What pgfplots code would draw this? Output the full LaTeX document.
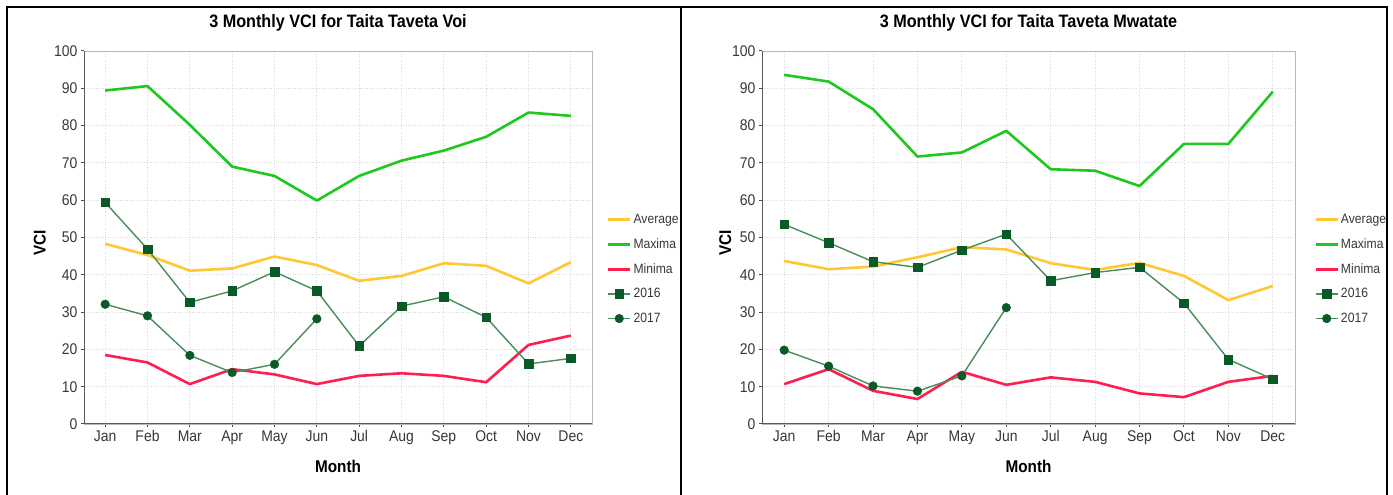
\documentclass[border=0pt]{standalone}
\usepackage{fontspec}
\setmainfont{Liberation Sans}[FakeStretch=0.9]
\usepackage{pgfplots}
\usepackage{pgfplotstable}
\pgfplotsset{compat=1.18}

\definecolor{avgc}{RGB}{255,200,50}
\definecolor{maxc}{RGB}{30,200,30}
\definecolor{minc}{RGB}{255,30,80}
\definecolor{yrline}{RGB}{72,142,92}
\definecolor{yrmark}{RGB}{10,90,40}
\definecolor{labc}{RGB}{55,55,55}

% Voi: long-term average, maxima and minima
\pgfplotstableread{
m avg max min
0 48.3 89.4 18.5
1 45.3 90.6 16.5
2 41.1 80.2 10.7
3 41.7 69.0 14.7
4 44.9 66.5 13.3
5 42.6 59.9 10.7
6 38.4 66.5 12.9
7 39.7 70.6 13.6
8 43.1 73.3 12.9
9 42.4 77.0 11.2
10 37.7 83.5 21.2
11 43.4 82.6 23.7
}\voiclim
\pgfplotstableread{
m v
0 59.4
1 46.9
2 32.6
3 35.7
4 40.8
5 35.7
6 20.9
7 31.6
8 34.1
9 28.6
10 16.1
11 17.6
}\voiA
\pgfplotstableread{
m v
0 32.1
1 29.0
2 18.4
3 13.8
4 16.0
5 28.2
}\voiB

% Mwatate: long-term average, maxima and minima
\pgfplotstableread{
m avg max min
0 43.7 93.6 10.7
1 41.5 91.8 14.7
2 42.2 84.4 8.9
3 44.7 71.7 6.7
4 47.4 72.8 14.0
5 46.8 78.6 10.5
6 43.1 68.3 12.5
7 41.3 67.9 11.3
8 43.2 63.8 8.2
9 39.7 75.1 7.2
10 33.2 75.1 11.3
11 37.0 89.1 12.9
}\mwaclim
\pgfplotstableread{
m v
0 53.5
1 48.6
2 43.5
3 42.0
4 46.6
5 50.9
6 38.4
7 40.6
8 42.0
9 32.4
10 17.3
11 12.0
}\mwaA
\pgfplotstableread{
m v
0 19.8
1 15.5
2 10.2
3 8.8
4 12.9
5 31.2
}\mwaB

\pgfplotsset{
  vcipanel/.style={
    scale only axis,
    height=373pt,
    xmin=-0.5, xmax=11.5, ymin=0, ymax=100,
    xtick={0,...,11},
    xticklabels={Jan,Feb,Mar,Apr,May,Jun,Jul,Aug,Sep,Oct,Nov,Dec},
    ytick={0,10,...,100},
    /pgf/number format/assume math mode=true,
    xtick pos=bottom, ytick pos=left,
    tick align=outside,
    major tick length=3pt,
    tick style={black!70, line width=1pt},
    ticklabel style={font=\fontsize{15.5}{18}\selectfont, text=labc},
    grid=major,
    grid style={dotted, black!14, line width=0.9pt},
    axis line style={black!28, line width=0.8pt},
    xlabel={Month}, ylabel={VCI},
    label style={font=\bfseries\fontsize{17}{20}\selectfont},
    xlabel style={at={(axis description cs:0.5,-0.115)}, anchor=center},
    title style={font=\bfseries\fontsize{18}{21}\selectfont,
      at={(axis description cs:0.5,1)}, anchor=base, yshift=17pt},
    legend style={draw=none, fill=none, anchor=west,
      font=\fontsize{13.5}{16}\selectfont, text=labc,
      row sep=9.6pt, inner sep=0pt, cells={anchor=west}},
    legend image code/.code={%
      \draw[mark repeat=2, mark phase=2, #1]
        plot coordinates {(0pt,0pt) (11pt,0pt) (22pt,0pt)};},
  },
  avgline/.style={avgc, line width=2.6pt, line join=round},
  maxline/.style={maxc, line width=2.6pt, line join=round},
  minline/.style={minc, line width=2.6pt, line join=round},
  yrA/.style={yrline, line width=1.4pt, mark=square*, mark size=4.3pt,
    mark options={solid, fill=yrmark, draw=yrmark, line width=0.5pt}},
  yrB/.style={yrline, line width=1.4pt, mark=*, mark size=4.3pt,
    mark options={solid, fill=yrmark, draw=yrmark, line width=0.5pt}},
}

\begin{document}
\begin{tikzpicture}
\path[use as bounding box] (0pt,0pt) rectangle (1393pt,495pt);
\fill[white] (0pt,0pt) rectangle (1393pt,495pt);

% Voi panel
\begin{axis}[vcipanel,
  at={(84pt,71pt)}, anchor=south west, width=508pt,
  title={3 Monthly VCI for Taita Taveta Voi},
  ylabel style={at={(axis description cs:-0.087,0.485)}, anchor=center},
  legend style={at={(axis description cs:1.029,0.415)}},
]
\addplot[avgline] table[x=m, y=avg] {\voiclim};
\addlegendentry{Average}
\addplot[maxline] table[x=m, y=max] {\voiclim};
\addlegendentry{Maxima}
\addplot[minline] table[x=m, y=min] {\voiclim};
\addlegendentry{Minima}
\addplot[yrA] table[x=m, y=v] {\voiA};
\addlegendentry{2016}
\addplot[yrB] table[x=m, y=v] {\voiB};
\addlegendentry{2017}
\draw[black!65, line width=2pt] (rel axis cs:0,1) -- (rel axis cs:0,0) -- (rel axis cs:1,0);
\end{axis}

% Mwatate panel
\begin{axis}[vcipanel,
  at={(762pt,71pt)}, anchor=south west, width=533pt,
  title={3 Monthly VCI for Taita Taveta Mwatate},
  ylabel style={at={(axis description cs:-0.069,0.485)}, anchor=center},
  legend style={at={(axis description cs:1.036,0.415)}},
]
\addplot[avgline] table[x=m, y=avg] {\mwaclim};
\addlegendentry{Average}
\addplot[maxline] table[x=m, y=max] {\mwaclim};
\addlegendentry{Maxima}
\addplot[minline] table[x=m, y=min] {\mwaclim};
\addlegendentry{Minima}
\addplot[yrA] table[x=m, y=v] {\mwaA};
\addlegendentry{2016}
\addplot[yrB] table[x=m, y=v] {\mwaB};
\addlegendentry{2017}
\draw[black!65, line width=2pt] (rel axis cs:0,1) -- (rel axis cs:0,0) -- (rel axis cs:1,0);
\end{axis}

% panel frame
\draw[black, line width=2pt] (7pt,0pt) -- (7pt,488pt) -- (1387pt,488pt) -- (1387pt,0pt);
\draw[black, line width=2pt] (681pt,0pt) -- (681pt,488pt);
\end{tikzpicture}
\end{document}
